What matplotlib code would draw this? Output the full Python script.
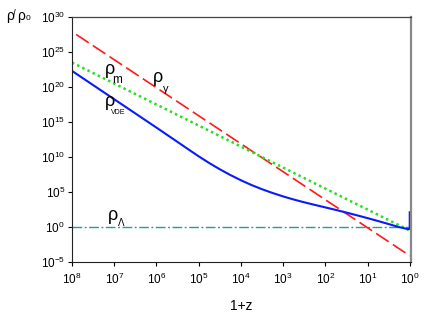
import matplotlib
matplotlib.use("Agg")
import matplotlib.pyplot as plt

plt.rcParams['font.family'] = ['Liberation Sans', 'DejaVu Sans']
plt.rcParams['mathtext.fontset'] = 'custom'
plt.rcParams['mathtext.rm'] = 'Liberation Sans'
plt.rcParams['mathtext.it'] = 'Liberation Sans'
plt.rcParams['mathtext.bf'] = 'Liberation Sans:bold'

# ---- data ----
# radiation: straight line on log-log, endpoints
z_gamma = [1e8, 1.0]
rho_gamma = [10**27.9, 10**-4.1]
# matter
z_m = [1e8, 0.97]
rho_m = [10**23.5, 10**-0.55]
# vacuum dark energy: log10(1+z) and log10(rho)
logz_vde = [8, 7, 6, 5.5, 5.25, 5.0, 4.75, 4.5, 4.25, 4.0, 3.75, 3.5, 3.25,
            3.0, 2.75, 2.5, 2.25, 2.0, 1.75, 1.5, 1.25, 1.0, 0.75, 0.5,
            0.25, 0.12, 0.05, 0.0, 0.0]
logrho_vde = [22.3, 18.25, 14.2, 12.15, 11.12, 10.1, 9.14, 8.25, 7.43, 6.68,
              6.0, 5.4, 4.86, 4.37, 3.93, 3.53, 3.16, 2.8, 2.44, 2.06, 1.67,
              1.27, 0.85, 0.42, -0.02, -0.2, -0.28, -0.28, 2.1]
z_vde = [10**v for v in logz_vde]
rho_vde = [10**v for v in logrho_vde]
# cosmological constant
z_lam = [1e8, 0.97]
rho_lam = [1.0, 1.0]

xticks = [1e8, 1e7, 1e6, 1e5, 1e4, 1e3, 1e2, 1e1, 1e0]
yticks = [1e-5, 1e0, 1e5, 1e10, 1e15, 1e20, 1e25, 1e30]

W, H = 436, 313
fig = plt.figure(figsize=(W/100, H/100), dpi=100)
ax = fig.add_axes([72/W, 1-262/H, 339/W, 245/H])

ax.plot(z_lam, rho_lam, color='#1f9e9e', lw=1.0, linestyle=(0, (7, 1.8, 1.4, 1.8)))
ax.plot(z_gamma, rho_gamma, color='#ff1a1a', lw=1.2, linestyle=(9, (9, 3)))
ax.plot(z_m, rho_m, color='#22e022', lw=1.8, linestyle=(0, (1, 1.3)))
ax.plot(z_vde, rho_vde, color='#0a1aff', lw=1.5)

ax.set_xscale('log')
ax.set_yscale('log')
ax.set_xlim(1e8, 10**-0.03)
ax.set_ylim(1e-5, 1e30)
ax.set_xticks(xticks)
ax.set_yticks(yticks)
ax.minorticks_off()
ax.tick_params(axis='both', direction='out', length=3, width=0.8, labelsize=8.5, pad=2)
ax.tick_params(axis='x', pad=4)

for s in ['left', 'bottom']:
    ax.spines[s].set_color('#222222')
    ax.spines[s].set_linewidth(0.8)
ax.spines['top'].set_color('#444444')
ax.spines['top'].set_linewidth(0.9)
ax.spines['right'].set_color('#888888')
ax.spines['right'].set_linewidth(1.6)

ax.set_xlabel('1+z', fontsize=10, labelpad=9)

def ptxt(x, y, s, size, ha='center', **kw):
    fig.text(x/W, 1-y/H, s, fontsize=size, ha=ha, va='center', **kw)

# y-axis title  rho/rho_0
ptxt(10, 16, 'ρ', 10)
ptxt(14.5, 14, '/', 7)
ptxt(21, 16, 'ρ', 10)
ptxt(28, 19, '0', 6)

# curve labels
ptxt(110, 70, 'ρ', 13)
ptxt(117.5, 80, 'm', 8.5)
ptxt(158, 78, 'ρ', 13)
ptxt(165.5, 89, 'γ', 8)
ptxt(110, 101, 'ρ', 13)
ptxt(118, 113, 'VDE', 5)
ptxt(113, 216, 'ρ', 13)
ptxt(121, 223, 'Λ', 7)

fig.savefig('out.png', dpi=100)
